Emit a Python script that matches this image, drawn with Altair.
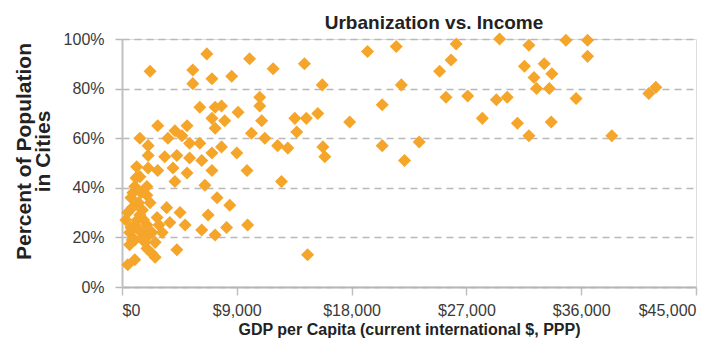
import altair as alt
import pandas as pd

# GDP per capita (current international $, PPP)
gdp = [
    2200, 6650, 5550, 5550, 7050, 8600, 10000, 11850, 14300, 15700,
    19250, 21500, 26200, 29600, 31900, 34800, 36500, 36500, 25800, 24900,
    31550, 33100, 32300, 33700, 32500, 33500, 21900, 20400, 25400, 27100,
    29350, 30200, 35600, 41300, 41850, 28250, 31000, 33650, 31900, 38400,
    20400, 23300, 22150, 17850,
    10800, 10800, 10950, 13550, 14450, 15350, 10150, 11200, 13700, 12200,
    13000, 15750, 15900, 9800, 12500, 9850, 14550, 9100, 6100, 7300,
    7800, 7050, 8050, 7300, 9000,
    2800, 4150, 5100, 1400, 3600, 4700, 5300, 2050, 6100, 7800,
    2050, 3350, 4300, 5300, 6250, 7050, 1150, 2050, 2800, 4000,
    5100, 7050, 1400, 4150, 1000, 1950, 6500, 850, 1950, 7450,
    2200, 8450, 800, 3500, 4550, 6750, 450, 1400, 2750, 3750,
    4950, 1000, 1950, 6250, 7300, 8200, 600, 1550, 2350, 3150,
    1650, 1000, 2600, 600, 1950, 4300, 2600, 1000, 450, 2350,
    700, 1300, 1600, 1200, 700, 1700, 1300, 300, 1500, 1100,
    800, 1800, 2100, 2900,
]
# Percent of population living in cities
urban = [
    87, 94, 87.5, 82, 84, 85, 92, 88, 90, 81.5,
    95, 97, 98, 100, 97.5, 99.5, 99.5, 93, 91.5, 87,
    89, 90, 84.5, 86, 80, 80, 81.5, 73.5, 76.5, 77,
    75.5, 76.5, 76, 78, 80.5, 68, 66, 66.5, 61, 61,
    57, 58.5, 51, 66.5,
    76.5, 73, 67, 68, 68, 70, 62, 60, 62.5, 57,
    56, 56.5, 52.5, 47, 42.5, 25, 13, 70.5, 72.5, 72.5,
    73, 68, 67, 64, 54,
    65, 63, 65, 60, 60, 61, 58, 57, 58, 56.5,
    53, 52.5, 53, 52, 51, 54, 48.5, 48, 47, 48,
    46, 47, 44.5, 42.5, 40.5, 40.5, 41, 38, 37, 36,
    34, 33, 32, 32, 30, 29, 30, 29, 28, 26,
    25, 25, 25, 23, 21, 24, 22, 22, 22, 22,
    20, 19, 18, 17, 15.5, 15, 12, 11, 9, 13.5,
    36, 34, 31, 27, 24, 27, 23, 27, 38, 44,
    19, 18, 21, 25,
]

x_ticks = [0, 9000, 18000, 27000, 36000, 45000]
y_ticks = [0, 20, 40, 60, 80, 100]

df = pd.DataFrame({"gdp": gdp, "urban": urban})

FONT = "Liberation Sans"

chart = (
    alt.Chart(df)
    .mark_point(shape="diamond", filled=True, size=170, opacity=1, color="#F5A52A")
    .encode(
        x=alt.X(
            "gdp:Q",
            scale=alt.Scale(domain=[0, 45000], nice=False, zero=True),
            axis=alt.Axis(
                values=x_ticks,
                format="$,d",
                title="GDP per Capita (current international $, PPP)",
                grid=False,
                domainColor="#b5b5b5",
                domainWidth=2,
                tickColor="#c0c0c0",
                tickWidth=1.5,
                tickSize=8,
                labelPadding=7,
                labelFont=FONT,
                labelFontSize=16,
                labelColor="#3a3a3a",
                titleFont=FONT,
                titleFontSize=16,
                titleFontWeight="bold",
                titleColor="#222222",
                titlePadding=3,
            ),
        ),
        y=alt.Y(
            "urban:Q",
            scale=alt.Scale(domain=[0, 100], nice=False),
            axis=alt.Axis(
                values=y_ticks,
                labelExpr="datum.value + '%'",
                title=["Percent of Population", "in Cities"],
                grid=True,
                gridColor="#b8b8b8",
                gridDash=[7, 5],
                gridWidth=1.5,
                domainColor="#c0c0c0",
                domainWidth=2,
                tickColor="#b8b8b8",
                tickDash=[7, 5],
                tickWidth=1.5,
                tickSize=12,
                labelPadding=6,
                labelFont=FONT,
                labelFontSize=16,
                labelColor="#3a3a3a",
                titleFont=FONT,
                titleFontSize=21,
                titleFontWeight="bold",
                titleColor="#222222",
                titleLineHeight=19,
                titlePadding=10,
                titleY=112,
            ),
        ),
    )
    .properties(
        width=574,
        height=248,
        autosize=alt.AutoSizeParams(type="none"),
        padding={"left": 114, "top": 31, "right": 18, "bottom": 53},
        title=alt.TitleParams(
            "Urbanization vs. Income",
            font=FONT,
            fontSize=19,
            fontWeight="bold",
            color="#222222",
            anchor="middle",
            dx=25,
            offset=-2,
        ),
    )
    .configure_view(fill="#FDEFDB", stroke=None)
    .configure(background="white")
)

chart.save("out.html", embed_options={"renderer": "svg", "actions": False})
